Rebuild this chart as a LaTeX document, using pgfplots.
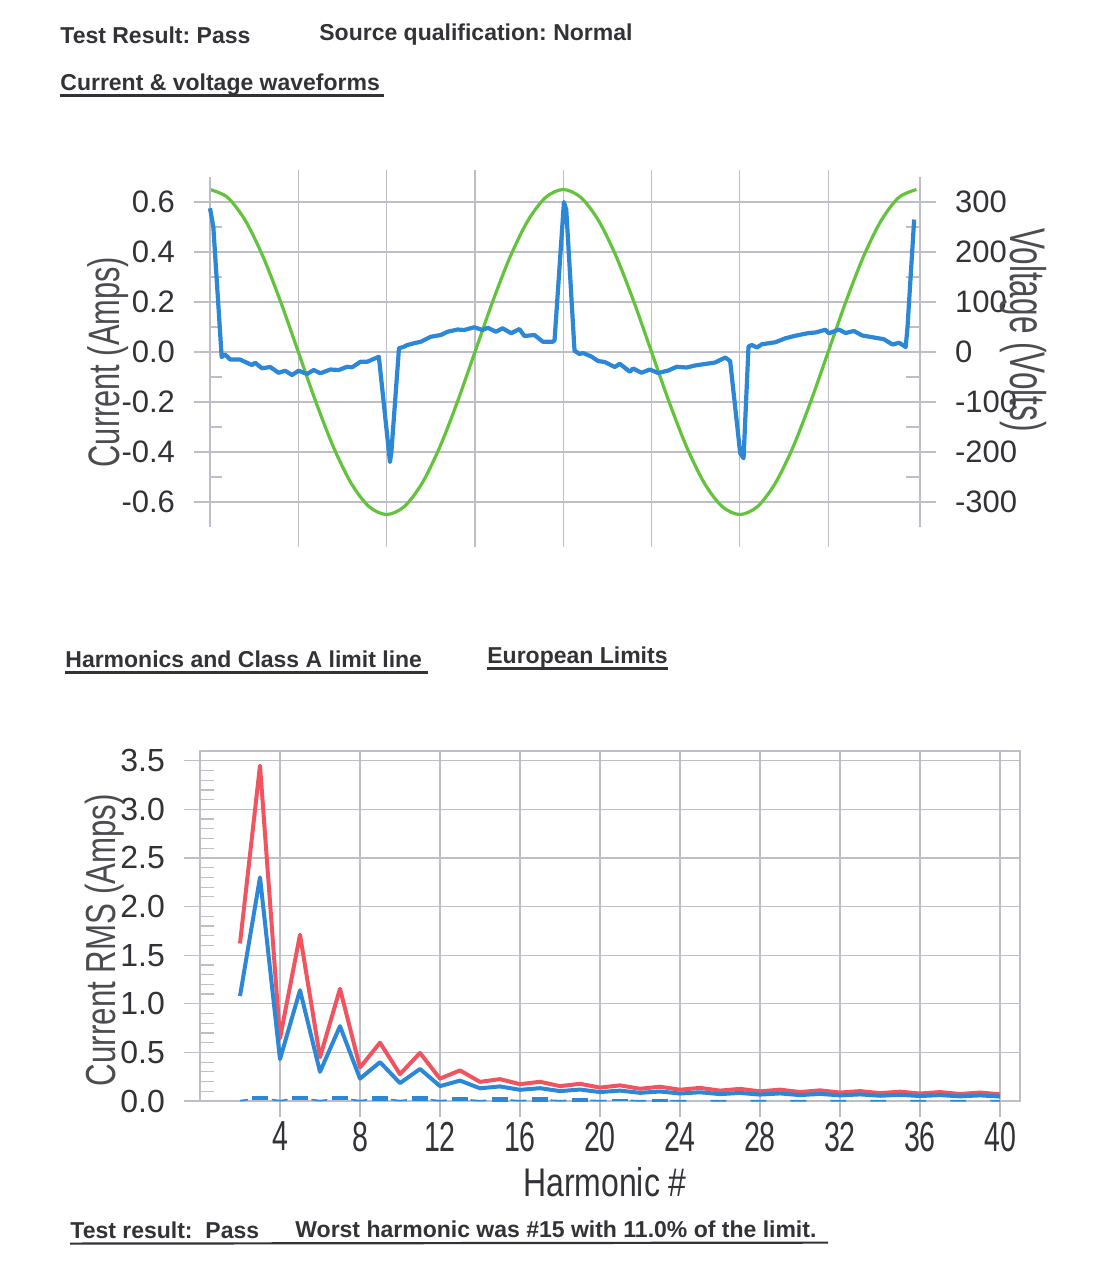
\documentclass[border=0pt]{standalone}
\usepackage{pgfplots}
\pgfplotsset{compat=1.18}
\usepackage{fontspec}
\setmainfont{Liberation Sans}
\definecolor{gridc}{RGB}{190,190,198}
\definecolor{txt}{RGB}{50,50,55}
\definecolor{lbl}{RGB}{75,75,80}
\definecolor{cblue}{RGB}{45,135,215}
\definecolor{cgreen}{RGB}{100,195,60}
\definecolor{cred}{RGB}{240,85,95}
\newcommand{\hdr}{\bfseries\fontsize{11.5}{13}\selectfont}
\newcommand{\sx}[1]{\scalebox{0.68}[1]{#1}}
\frenchspacing
\begin{document}
\begin{tikzpicture}
\path (0,0) rectangle (550pt,-633pt);
% ---------- headers ----------
\node[anchor=base west,inner sep=0,font=\hdr,text=txt] at (30pt,-21.5pt) {Test Result: Pass};
\node[anchor=base west,inner sep=0,font=\hdr,text=txt] at (159.5pt,-20pt) {Source qualification: Normal};
\node[anchor=base west,inner sep=0,font=\hdr,text=txt] at (30pt,-45pt) {Current \& voltage waveforms};
\draw[txt,line width=1.1pt] (30pt,-47.7pt) -- (192pt,-47.7pt);
\node[anchor=base west,inner sep=0,font=\hdr,text=txt] at (32.5pt,-333.5pt) {Harmonics and Class A limit line};
\draw[txt,line width=1.1pt] (32.5pt,-336.2pt) -- (214pt,-336.2pt);
\node[anchor=base west,inner sep=0,font=\hdr,text=txt] at (243.5pt,-331.5pt) {European Limits};
\draw[txt,line width=1.1pt] (243.5pt,-334.2pt) -- (334pt,-334.2pt);
\node[anchor=base west,inner sep=0,font=\hdr,text=txt] at (35pt,-619pt) {Test result:\ \ Pass};
\node[anchor=base west,inner sep=0,font=\hdr,text=txt] at (147.5pt,-618.5pt) {Worst harmonic was \#15 with 11.0\% of the limit.};
\draw[txt,line width=1.1pt] (35pt,-621.8pt) -- (414pt,-621.3pt);
% ---------- top chart: voltage (right axis) ----------
\begin{axis}[
  at={(105pt,-263.5pt)}, anchor=south west, scale only axis,
  width=355pt, height=175pt,
  xmin=0, xmax=40.2, ymin=-350, ymax=350,
  axis x line=none, axis y line*=right,
  axis line style={gridc, line width=0.6pt},
  xtick=\empty,
  ytick={-300,-200,-100,0,100,200,300},
  yticklabels={-300,-200,-100,0,100,200,300},
  minor ytick={-250,-150,-50,50,150,250},
  ymajorgrids, grid style={gridc, line width=0.6pt},
  tick style={gridc, line width=0.6pt},
  tick align=inside, major tick length=-8pt, minor tick length=7pt,
  yticklabel style={font=\fontsize{15.5}{18}\selectfont, text=txt, xshift=14pt},
  clip=false,
]
\pgfplotsinvokeforeach{5,10,15,20,25,30,35}{\draw[gridc,line width=0.6pt] (axis cs:#1,365) -- (axis cs:#1,-390);}
\addplot[cgreen, line width=1.6pt, smooth] coordinates {
(0,325) (1,309.1) (2,262.9) (3,191.0) (4,100.4) (5,0) (6,-100.4) (7,-191.0) (8,-262.9) (9,-309.1)
(10,-325) (11,-309.1) (12,-262.9) (13,-191.0) (14,-100.4) (15,0) (16,100.4) (17,191.0) (18,262.9) (19,309.1)
(20,325) (21,309.1) (22,262.9) (23,191.0) (24,100.4) (25,0) (26,-100.4) (27,-191.0) (28,-262.9) (29,-309.1)
(30,-325) (31,-309.1) (32,-262.9) (33,-191.0) (34,-100.4) (35,0) (36,100.4) (37,191.0) (38,262.9) (39,309.1)
(40,325)};
\end{axis}
% ---------- top chart: current (left axis) ----------
\begin{axis}[
  at={(105pt,-263.5pt)}, anchor=south west, scale only axis,
  width=355pt, height=175pt,
  xmin=0, xmax=40.2, ymin=-0.7, ymax=0.7,
  axis x line=none, axis y line*=left,
  axis line style={gridc, line width=0.6pt},
  xtick=\empty,
  ytick={-0.6,-0.4,-0.2,0,0.2,0.4,0.6},
  yticklabels={-0.6,-0.4,-0.2,0.0,0.2,0.4,0.6},
  minor ytick={-0.5,-0.3,-0.1,0.1,0.3,0.5},
  tick style={gridc, line width=0.6pt},
  tick align=inside, major tick length=-8pt, minor tick length=6pt,
  yticklabel style={font=\fontsize{15.5}{18}\selectfont, text=txt, xshift=-14pt},
  clip=false,
]
\addplot[cblue, line width=2.1pt, line join=round] coordinates {
(0,0.575) (0.19,0.50) (0.66,-0.02) (0.85,-0.01) (1.14,-0.03) (1.7,-0.03) (2.37,-0.052) (2.56,-0.043)
(2.94,-0.065) (3.41,-0.06) (3.88,-0.083) (4.26,-0.075) (4.64,-0.092) (5.02,-0.075) (5.49,-0.088)
(5.87,-0.072) (6.25,-0.085) (6.82,-0.07) (7.29,-0.072) (7.77,-0.059) (8.05,-0.061) (8.52,-0.039)
(8.9,-0.039) (9.56,-0.019) (10.19,-0.44) (10.27,-0.40) (10.7,0.015) (10.98,0.021) (11.17,0.028)
(11.55,0.035) (11.93,0.041) (12.5,0.061) (13.07,0.068) (13.45,0.081) (14.02,0.09) (14.39,0.088)
(14.96,0.099) (15.44,0.088) (15.72,0.097) (16.19,0.081) (16.57,0.095) (17.05,0.075) (17.52,0.092)
(17.8,0.064) (18.37,0.068) (18.85,0.041) (19.41,0.041) (19.51,0.048) (20.04,0.60) (20.17,0.57)
(20.64,0.005) (20.93,-0.008) (21.12,-0.004) (21.59,-0.018) (21.97,-0.036) (22.35,-0.04) (22.92,-0.06)
(23.2,-0.047) (23.77,-0.079) (23.96,-0.066) (24.43,-0.083) (24.9,-0.07) (25.38,-0.084) (25.95,-0.074)
(26.42,-0.059) (26.99,-0.062) (27.46,-0.054) (28.03,-0.048) (28.6,-0.042) (29.17,-0.022) (29.45,-0.036)
(30.02,-0.405) (30.21,-0.425) (30.49,0.022) (30.68,0.028) (30.97,0.018) (31.25,0.031) (32.01,0.039)
(32.58,0.055) (33.14,0.065) (33.9,0.076) (34.28,0.078) (34.85,0.089) (35.04,0.075) (35.61,0.09)
(35.98,0.076) (36.46,0.084) (36.93,0.066) (37.6,0.058) (38.16,0.051) (38.64,0.03) (39.02,0.037)
(39.39,0.02) (39.49,0.097) (39.87,0.53)};
\end{axis}
\node[rotate=90, font=\fontsize{22}{24}\selectfont, text=lbl] at (54pt,-181pt) {\scalebox{0.7}[1]{Current (Amps)}};
\node[rotate=-90, font=\fontsize{25}{27}\selectfont, text=lbl] at (511.5pt,-165pt) {\scalebox{0.63}[1]{Voltage (Volts)}};
% ---------- bottom chart ----------
\begin{axis}[
  at={(100pt,-550.5pt)}, anchor=south west, scale only axis,
  width=410pt, height=175pt,
  xmin=0, xmax=41, ymin=0, ymax=3.6,
  axis line style={gridc, line width=0.6pt},
  xtick={4,8,12,16,20,24,28,32,36,40},
  xticklabels={\sx{4},\sx{8},\sx{12},\sx{16},\sx{20},\sx{24},\sx{28},\sx{32},\sx{36},\sx{40}},
  ytick={0,0.5,1,1.5,2,2.5,3,3.5},
  yticklabels={0.0,0.5,1.0,1.5,2.0,2.5,3.0,3.5},
  minor y tick num=4,
  xtick pos=bottom, ytick pos=left,
  grid=major, grid style={gridc, line width=0.6pt},
  tick style={gridc, line width=0.6pt},
  tick align=inside, major tick length=-8pt, minor tick length=7pt,
  xticklabel style={font=\fontsize{21}{23}\selectfont, text=txt, yshift=-7pt},
  yticklabel style={font=\fontsize{16}{18}\selectfont, text=txt, xshift=-14pt},
  clip=false,
]
\addplot[cred, line width=2pt, line join=round] coordinates {
(2,1.62) (3,3.45) (4,0.645) (5,1.71) (6,0.45) (7,1.155) (8,0.345) (9,0.60) (10,0.276) (11,0.495)
(12,0.23) (13,0.315) (14,0.197) (15,0.225) (16,0.173) (17,0.198) (18,0.153) (19,0.177) (20,0.138)
(21,0.161) (22,0.126) (23,0.147) (24,0.116) (25,0.135) (26,0.107) (27,0.125) (28,0.099) (29,0.117)
(30,0.092) (31,0.110) (32,0.087) (33,0.102) (34,0.081) (35,0.096) (36,0.077) (37,0.092) (38,0.072)
(39,0.087) (40,0.069)};
\addplot[cblue, line width=2pt, line join=round] coordinates {
(2,1.08) (3,2.30) (4,0.43) (5,1.14) (6,0.30) (7,0.77) (8,0.23) (9,0.40) (10,0.184) (11,0.33)
(12,0.153) (13,0.21) (14,0.131) (15,0.15) (16,0.115) (17,0.132) (18,0.102) (19,0.118) (20,0.092)
(21,0.107) (22,0.084) (23,0.098) (24,0.077) (25,0.090) (26,0.071) (27,0.083) (28,0.066) (29,0.078)
(30,0.061) (31,0.073) (32,0.058) (33,0.068) (34,0.054) (35,0.064) (36,0.051) (37,0.061) (38,0.048)
(39,0.058) (40,0.046)};
\addplot[cblue, line width=0.8pt, dash pattern=on 8pt off 12pt, dash phase=4pt] coordinates {
(2,0.004) (3,0.03) (4,0.004) (5,0.03) (6,0.004) (7,0.028) (8,0.004) (9,0.027) (10,0.004) (11,0.025)
(12,0.003) (13,0.02) (14,0.003) (15,0.0165) (16,0.003) (17,0.014) (18,0.003) (19,0.012) (20,0.003)
(21,0.01) (22,0.002) (23,0.008) (24,0.002) (25,0.005) (26,0.002) (27,0.005) (28,0.002) (29,0.005)
(30,0.002) (31,0.005) (32,0.002) (33,0.005) (34,0.002) (35,0.005) (36,0.002) (37,0.005) (38,0.002)
(39,0.005) (40,0.002)};
\addplot[cblue, only marks, mark=-, mark size=4pt, mark options={line width=2.2pt}] coordinates {
(3,0.03) (5,0.03) (7,0.028) (9,0.027) (11,0.025) (13,0.02) (15,0.0165) (17,0.014) (19,0.012)};
\addplot[cblue, only marks, mark=-, mark size=4pt, mark options={line width=1.3pt}] coordinates {
(21,0.01) (23,0.008)};
\end{axis}
\node[font=\fontsize{20}{22}\selectfont, text=txt] at (302.5pt,-591pt) {\scalebox{0.8}[1]{Harmonic \#}};
\node[rotate=90, font=\fontsize{21}{23}\selectfont, text=lbl] at (52.5pt,-470pt) {\scalebox{0.745}[1]{Current RMS (Amps)}};
\end{tikzpicture}
\end{document}
